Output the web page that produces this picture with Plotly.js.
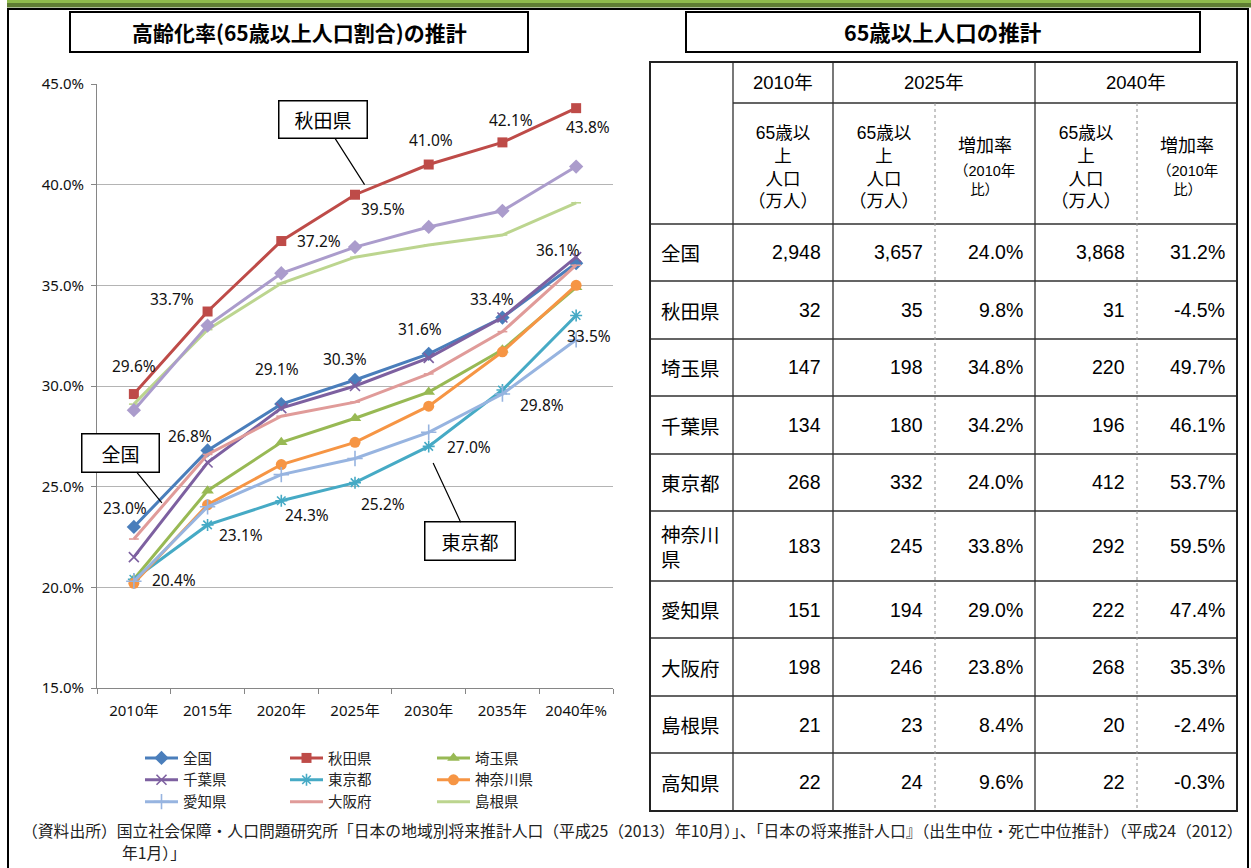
<!DOCTYPE html>
<html><head><meta charset="utf-8">
<script src="https://cdn.plot.ly/plotly-3.0.1.min.js"></script>
<style>html,body{margin:0;padding:0;background:#fff;}#chart{width:1251px;height:868px;}</style>
</head><body><div id="chart"></div>
<script>
// ---------------- data ----------------
const years = ['2010年','2015年','2020年','2025年','2030年','2035年','2040年'];
const xTickLabels = ['2010年','2015年','2020年','2025年','2030年','2035年','2040年%'];
const yTickValues = [15,20,25,30,35,40,45];
const yTickLabels = ['15.0%','20.0%','25.0%','30.0%','35.0%','40.0%','45.0%'];

const zenkoku  = [23.0,26.8,29.1,30.3,31.6,33.4,36.1];
const akita    = [29.6,33.7,37.2,39.5,41.0,42.1,43.8];
const saitama  = [20.4,24.8,27.2,28.4,29.7,31.8,34.9];
const chiba    = [21.5,26.2,28.9,30.0,31.4,33.4,36.4];
const tokyo    = [20.4,23.1,24.3,25.2,27.0,29.8,33.5];
const kanagawa = [20.2,24.1,26.1,27.2,29.0,31.7,35.0];
const aichi    = [20.3,24.0,25.6,26.4,27.7,29.6,32.3];
const osaka    = [22.4,26.6,28.5,29.2,30.6,32.7,36.0];
const shimane  = [29.1,32.8,35.1,36.4,37.0,37.5,39.1];
const kochi    = [28.8,33.0,35.6,36.9,37.9,38.7,40.9];

const chartTitle = '高齢化率(65歳以上人口割合)の推計';
const tableTitle = '65歳以上人口の推計';

const tableRegions = ['全国','秋田県','埼玉県','千葉県','東京都','神奈川県','愛知県','大阪府','島根県','高知県'];
const pop2010  = [2948,32,147,134,268,183,151,198,21,22];
const pop2025  = [3657,35,198,180,332,245,194,246,23,24];
const rate2025 = [24.0,9.8,34.8,34.2,24.0,33.8,29.0,23.8,8.4,9.6];
const pop2040  = [3868,31,220,196,412,292,222,268,20,22];
const rate2040 = [31.2,-4.5,49.7,46.1,53.7,59.5,47.4,35.3,-2.4,-0.3];
const tableYears = ['2010年','2025年','2040年'];
const popHeader = '65歳以<br>上<br>人口<br>（万人）';
const rateHeader = '増加率';
const rateSub = '（2010年<br>比）';

const sourceLine1 = '（資料出所）国立社会保障・人口問題研究所「日本の地域別将来推計人口（平成25（2013）年10月）」、「日本の将来推計人口』（出生中位・死亡中位推計）（平成24（2012）';
const sourceLine2 = '年1月）」';

// ---------------- style ----------------
const W = 1251, H = 868;
const px = v => v / W;
const py = v => 1 - v / H;
const JP = '"Noto Sans CJK JP", "Noto Sans", sans-serif';
const SANS = '"Noto Sans", "Noto Sans CJK JP", sans-serif';
const ARIAL = '"Liberation Sans", Arial, "Noto Sans CJK JP", sans-serif';

const series = [
  {name:'全国',   y:zenkoku,  color:'#4a7ebb', symbol:'diamond',       size:11, legend:'legend'},
  {name:'秋田県', y:akita,    color:'#be4b48', symbol:'square',        size:10, legend:'legend2'},
  {name:'埼玉県', y:saitama,  color:'#98b954', symbol:'triangle-up',   size:11, legend:'legend3'},
  {name:'千葉県', y:chiba,    color:'#7d60a0', symbol:'x-thin-open',   size:10, legend:'legend', open:true},
  {name:'東京都', y:tokyo,    color:'#46aac5', symbol:'asterisk-open', size:10, legend:'legend2', open:true},
  {name:'神奈川県',y:kanagawa, color:'#f69544', symbol:'circle',        size:11, legend:'legend3'},
  {name:'愛知県', y:aichi,    color:'#97b4e0', symbol:'cross-thin-open',size:11, legend:'legend', open:true},
  {name:'大阪府', y:osaka,    color:'#e09b99', symbol:'line-ew-open',  size:7,  legend:'legend2', open:true},
  {name:'島根県', y:shimane,  color:'#bcd58f', symbol:'line-ew-open',  size:7,  legend:'legend3', open:true},
  {name:'高知県', y:kochi,    color:'#ab9ccc', symbol:'diamond',       size:11, legend:'legend', hide:true}
];

const traces = series.map(s => ({
  type:'scatter', mode:'lines+markers', x:years, y:s.y, name:s.name,
  legend:s.legend, showlegend:!s.hide, hoverinfo:'skip',
  line:{color:s.color, width:3},
  marker:{symbol:s.symbol, size:s.size, color:s.color,
          line:{color:s.color, width:s.open ? 1.6 : 0}}
}));

// data labels: offsets in px (dx right, dy down)
const labelSets = [
  {y:akita,  off:[[0,-28],[-36,-13],[38,0],[28,14],[2,-25],[9,-22],[12,19]]},
  {y:zenkoku,off:[[-9,-19],[-18,-14],[-4,-35],[-10,-21],[-9,-25],[-10,-19],[-18,-13]]},
  {y:tokyo,  off:[[40,1],[33,10],[26,14],[28,21],[40,1],[40,15],[13,20]]}
];
const annotations = [];
labelSets.forEach(set => {
  set.y.forEach((v,i) => {
    annotations.push({x:years[i], y:v, xref:'x', yref:'y', text:v.toFixed(1)+'%',
      showarrow:false, xanchor:'center', yanchor:'middle', xshift:set.off[i][0], yshift:-set.off[i][1],
      font:{family:SANS, size:15.5, color:'#111'}});
  });
});

// callouts
const callouts = [
  {text:'秋田県', x:3.13, y:40.0, ax:-41.5, ay:-65, w:87, h:36},
  {text:'全国',   x:0.38, y:24.19, ax:-41, ay:-50, w:76, h:37},
  {text:'東京都', x:4.06, y:26.18, ax:36.5, ay:78.5, w:89, h:37}
];
callouts.forEach(c => annotations.push({
  x:c.x, y:c.y, xref:'x', yref:'y', text:c.text, showarrow:true, arrowhead:0,
  arrowwidth:1.2, arrowcolor:'#000', ax:c.ax, ay:c.ay, standoff:0,
  bgcolor:'#fff', bordercolor:'#000', borderwidth:1.5, borderpad:0,
  width:c.w, height:c.h, font:{family:JP, size:19, color:'#000'}
}));

const shapes = [];
// top green bar
shapes.push({type:'rect', xref:'paper', yref:'paper', x0:px(7), x1:px(1251), y0:py(0), y1:py(3), fillcolor:'#8fbb4c', line:{width:0}, layer:'above'});
shapes.push({type:'rect', xref:'paper', yref:'paper', x0:px(7), x1:px(1251), y0:py(3), y1:py(7.5), fillcolor:'#5f7d33', line:{width:0}, layer:'above'});
// frame
shapes.push({type:'rect', xref:'paper', yref:'paper', x0:px(8), x1:px(1248), y0:py(9), y1:py(880), line:{color:'#000', width:2}, fillcolor:'rgba(0,0,0,0)'});
// title boxes
shapes.push({type:'rect', xref:'paper', yref:'paper', x0:px(70), x1:px(528), y0:py(12), y1:py(52), line:{color:'#000', width:2}});
shapes.push({type:'rect', xref:'paper', yref:'paper', x0:px(686), x1:px(1200), y0:py(12), y1:py(52), line:{color:'#000', width:2}});
annotations.push({xref:'paper', yref:'paper', x:px(299), y:py(32), xanchor:'center', yanchor:'middle', text:'<b>'+chartTitle+'</b>', showarrow:false, font:{family:JP, size:21, color:'#000'}});
annotations.push({xref:'paper', yref:'paper', x:px(943), y:py(32), xanchor:'center', yanchor:'middle', text:'<b>'+tableTitle+'</b>', showarrow:false, font:{family:JP, size:21.5, color:'#000'}});

// table geometry
const cols = [650, 733, 833, 935, 1035, 1137, 1237];
const rows = [62, 103, 224, 281, 339, 396, 454, 511, 581, 638, 696, 753, 811];
const LC = '#303030';
const hline = (y, x0, x1, dash, color, w) => shapes.push({type:'line', xref:'paper', yref:'paper', x0:px(x0), x1:px(x1), y0:py(y), y1:py(y), line:{color:color||LC, width:w||1.3, dash:dash||'solid'}});
const vline = (x, y0, y1, dash, color, w) => shapes.push({type:'line', xref:'paper', yref:'paper', x0:px(x), x1:px(x), y0:py(y0), y1:py(y1), line:{color:color||LC, width:w||1.3, dash:dash||'solid'}});
hline(rows[1], cols[1], cols[6]);
for (let i = 2; i < rows.length - 1; i++) hline(rows[i], cols[0], cols[6]);
[cols[1], cols[2], cols[4]].forEach(x => vline(x, rows[0], rows[rows.length-1]));
[cols[3], cols[5]].forEach(x => vline(x, rows[1], rows[rows.length-1], 'dot', '#909090', 1));
shapes.push({type:'rect', xref:'paper', yref:'paper', x0:px(cols[0]), x1:px(cols[6]), y0:py(rows[0]), y1:py(rows[rows.length-1]), line:{color:'#222', width:2}});

const cell = (text, x, y, size, align, family) => annotations.push({xref:'paper', yref:'paper', x:px(x), y:py(y), text:text, showarrow:false,
  xanchor:align||'center', yanchor:'middle', align:align==='right'?'right':(align==='left'?'left':'center'),
  font:{family:family||JP, size:size, color:'#000'}});

// header row 1
cell(tableYears[0], (cols[1]+cols[2])/2, (rows[0]+rows[1])/2, 18.5, 'center', ARIAL);
cell(tableYears[1], (cols[2]+cols[4])/2, (rows[0]+rows[1])/2, 18.5, 'center', ARIAL);
cell(tableYears[2], (cols[4]+cols[6])/2, (rows[0]+rows[1])/2, 18.5, 'center', ARIAL);
// header row 2
const hMid = (rows[1]+rows[2])/2 + 3;
[[cols[1],cols[2]],[cols[2],cols[3]],[cols[4],cols[5]]].forEach(c => cell(popHeader, (c[0]+c[1])/2, hMid, 17.5, 'center', ARIAL));
[[cols[3],cols[4]],[cols[5],cols[6]]].forEach(c => {
  cell(rateHeader, (c[0]+c[1])/2, 146, 18, 'center', ARIAL);
  cell(rateSub, (c[0]+c[1])/2, 180, 14.5, 'center', ARIAL);
});
// data rows
const fmtInt = v => v.toLocaleString('en-US');
const fmtPct = v => v.toFixed(1) + '%';
tableRegions.forEach((name, i) => {
  const yc = (rows[i+2] + rows[i+3]) / 2;
  const label = name.length > 3 ? name.slice(0,3) + '<br>' + name.slice(3) : name;
  cell(label, cols[0] + 9, yc, 19.5, 'left', JP);
  cell(fmtInt(pop2010[i]),  cols[2] - 10, yc, 19.5, 'right', ARIAL);
  cell(fmtInt(pop2025[i]),  cols[3] - 10, yc, 19.5, 'right', ARIAL);
  cell(fmtPct(rate2025[i]), cols[4] - 10, yc, 19.5, 'right', ARIAL);
  cell(fmtInt(pop2040[i]),  cols[5] - 10, yc, 19.5, 'right', ARIAL);
  cell(fmtPct(rate2040[i]), cols[6] - 10, yc, 19.5, 'right', ARIAL);
});

// source
annotations.push({xref:'paper', yref:'paper', x:px(20), y:py(830), xanchor:'left', yanchor:'middle', text:sourceLine1, showarrow:false, font:{family:JP, size:15.8, color:'#222'}});
annotations.push({xref:'paper', yref:'paper', x:px(120), y:py(852), xanchor:'left', yanchor:'middle', text:sourceLine2, showarrow:false, font:{family:JP, size:15.8, color:'#222'}});

const legendBase = {orientation:'v', xanchor:'left', yanchor:'top', y:py(742), bgcolor:'rgba(0,0,0,0)',
  borderwidth:0, itemwidth:33, traceorder:'normal', font:{family:JP, size:14.5, color:'#222'}, tracegroupgap:0};

const layout = {
  width:W, height:H, margin:{l:0, r:0, t:0, b:0, autoexpand:false},
  paper_bgcolor:'#fff', plot_bgcolor:'#fff',
  xaxis:{domain:[px(97), px(613)], type:'category', range:[-0.5, 6.5], tickvals:years, ticktext:xTickLabels,
    showline:true, linecolor:'#868686', linewidth:1, ticks:'outside', ticklen:5, tickcolor:'#868686', tickson:'boundaries',
    showgrid:false, zeroline:false, fixedrange:true, tickfont:{family:SANS, size:15, color:'#111'}, ticklabelstandoff:9},
  yaxis:{domain:[py(688), py(84)], range:[15, 45], tickmode:'array', tickvals:yTickValues, ticktext:yTickLabels,
    showline:true, linecolor:'#868686', linewidth:1, ticks:'outside', ticklen:5, tickcolor:'#868686',
    showgrid:true, gridcolor:'#b4b4b4', gridwidth:1, zeroline:false, fixedrange:true,
    tickfont:{family:SANS, size:15, color:'#111'}, ticklabelstandoff:4},
  legend: Object.assign({}, legendBase, {x:px(140)}),
  legend2: Object.assign({}, legendBase, {x:px(285)}),
  legend3: Object.assign({}, legendBase, {x:px(432)}),
  annotations:annotations, shapes:shapes, showlegend:true
};

Plotly.newPlot('chart', traces, layout, {displayModeBar:false, staticPlot:true});
</script></body></html>
